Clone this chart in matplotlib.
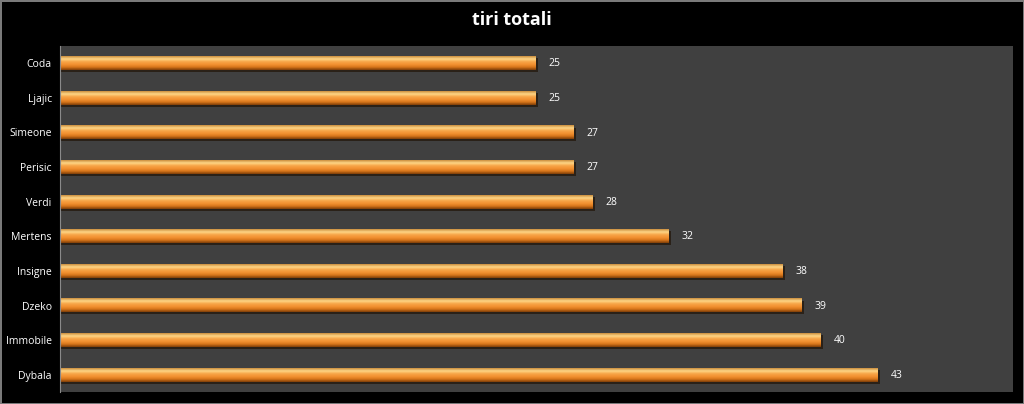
import matplotlib.pyplot as plt
import numpy as np
from matplotlib.colors import LinearSegmentedColormap

players = ['Coda', 'Ljajic', 'Simeone', 'Perisic', 'Verdi', 'Mertens',
           'Insigne', 'Dzeko', 'Immobile', 'Dybala']
shots = [25, 25, 27, 27, 28, 32, 38, 39, 40, 43]

plt.rcParams['font.family'] = ['Open Sans', 'DejaVu Sans']

fig = plt.figure(figsize=(10.24, 4.04), dpi=100, facecolor='black')
fig.patch.set_edgecolor('#7a7a7a')
fig.patch.set_linewidth(1.0)
ax = fig.add_axes([60 / 1024, 12 / 404, 953 / 1024, 346 / 404])
ax.set_facecolor('#404040')

y = np.arange(len(players))
h = 0.4
# top highlight -> orange body -> dark bottom edge
cmap = LinearSegmentedColormap.from_list(
    'bar', ['#c88a3a', '#ffd98a', '#f7a548', '#f39232', '#d8761a', '#7a3c08'])
grad = np.linspace(0, 1, 64).reshape(-1, 1)

for yi, v in zip(y, shots):
    # soft shadow under each bar
    ax.barh(yi + 0.06, v + 0.15, height=h, color='#2a2118', zorder=1)
    ax.imshow(grad, cmap=cmap, aspect='auto', zorder=2, origin='upper',
              extent=(0, v, yi + h / 2, yi - h / 2), interpolation='bicubic')
    ax.text(v + 0.7, yi + 0.02, str(v), color='white', va='center', ha='left',
            fontsize=7.5)

ax.set_xlim(0, 50.15)
ax.set_ylim(len(players) - 0.5, -0.5)
ax.set_yticks(y)
ax.set_yticklabels(players, color='white', fontsize=7.5)
ax.set_xticks([])
ax.tick_params(axis='y', length=0, pad=6)
for s in ['top', 'right', 'bottom']:
    ax.spines[s].set_visible(False)
ax.spines['left'].set_color('#8a8a8a')
ax.spines['left'].set_linewidth(0.8)

fig.text(0.5, 1 - 20 / 404, 'tiri totali', color='white', fontsize=13,
         fontweight='bold', ha='center', va='center')

fig.savefig('out.png', dpi=100, facecolor='black', edgecolor=fig.get_edgecolor())
